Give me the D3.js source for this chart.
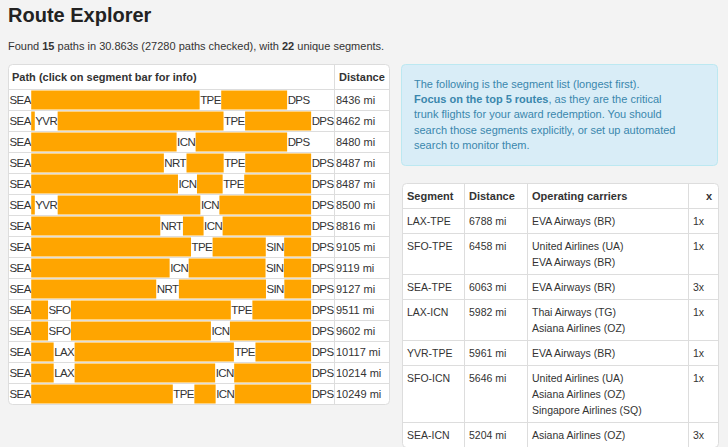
<!DOCTYPE html>
<html>
<head>
<meta charset="utf-8">
<script src="https://cdn.jsdelivr.net/npm/d3@7"></script>
<style>
  body { margin: 0; background: #f3f3f3; }
  svg { display: block; font-family: "Liberation Sans", Arial, Helvetica, sans-serif; }
</style>
</head>
<body>
<div id="chart"></div>
<script>
// --- data ---
const pathStops = [
  ["SEA", "TPE", "DPS"],
  ["SEA", "YVR", "TPE", "DPS"],
  ["SEA", "ICN", "DPS"],
  ["SEA", "NRT", "TPE", "DPS"],
  ["SEA", "ICN", "TPE", "DPS"],
  ["SEA", "YVR", "ICN", "DPS"],
  ["SEA", "NRT", "ICN", "DPS"],
  ["SEA", "TPE", "SIN", "DPS"],
  ["SEA", "ICN", "SIN", "DPS"],
  ["SEA", "NRT", "SIN", "DPS"],
  ["SEA", "SFO", "TPE", "DPS"],
  ["SEA", "SFO", "ICN", "DPS"],
  ["SEA", "LAX", "TPE", "DPS"],
  ["SEA", "LAX", "ICN", "DPS"],
  ["SEA", "TPE", "ICN", "DPS"]
];
// leg distances (mi) for each path, in order of travel
const pathLegs = [
  [6063, 2373],
  [128, 5961, 2373],
  [5204, 3276],
  [4776, 1338, 2373],
  [5204, 910, 2373],
  [128, 5096, 3276],
  [4776, 764, 3276],
  [6063, 2018, 1024],
  [5204, 2891, 1024],
  [4776, 3327, 1024],
  [680, 6458, 2373],
  [680, 5646, 3276],
  [956, 6788, 2373],
  [956, 5982, 3276],
  [6063, 910, 3276]
];
const pathDistances = [8436, 8462, 8480, 8487, 8487, 8500, 8816, 9105, 9119, 9127, 9511, 9602, 10117, 10214, 10249];

const segNames = ["LAX-TPE", "SFO-TPE", "SEA-TPE", "LAX-ICN", "YVR-TPE", "SFO-ICN", "SEA-ICN"];
const segDistances = [6788, 6458, 6063, 5982, 5961, 5646, 5204];
const segCarriers = [
  ["EVA Airways (BR)"],
  ["United Airlines (UA)", "EVA Airways (BR)"],
  ["EVA Airways (BR)"],
  ["Thai Airways (TG)", "Asiana Airlines (OZ)"],
  ["EVA Airways (BR)"],
  ["United Airlines (UA)", "Asiana Airlines (OZ)", "Singapore Airlines (SQ)"],
  ["Asiana Airlines (OZ)"]
];
const segCounts = [1, 1, 3, 1, 1, 1, 3];
const uniqueSegments = 22;

const width = 728, height = 447;
const textColor = "#333";
const lineColor = "#ddd";
const orange = "#ffa500";

const svg = d3.select("#chart").append("svg")
  .attr("width", width)
  .attr("height", height);

svg.append("rect").attr("width", width).attr("height", height).attr("fill", "#f3f3f3");

// title + summary
svg.append("text")
  .attr("x", 8).attr("y", 22)
  .attr("font-size", 20).attr("font-weight", "bold")
  .attr("fill", "#222")
  .text("Route Explorer");

const summary = svg.append("text")
  .attr("x", 8).attr("y", 50)
  .attr("font-size", 11).attr("fill", textColor);
summary.append("tspan").text("Found ");
summary.append("tspan").attr("font-weight", "bold").text(pathDistances.length);
summary.append("tspan").text(" paths in 30.863s (27280 paths checked), with ");
summary.append("tspan").attr("font-weight", "bold").text(uniqueSegments);
summary.append("tspan").text(" unique segments.");

// --- path table ---
const pt = { left: 8, right: 389, top: 64, headH: 25, rowH: 21, split: 334 };
const ptBottom = pt.top + pt.headH + pathStops.length * pt.rowH;

svg.append("rect")
  .attr("x", pt.left + 0.5).attr("y", pt.top + 0.5)
  .attr("width", pt.right - pt.left).attr("height", ptBottom - pt.top)
  .attr("rx", 4).attr("fill", "#fff").attr("stroke", lineColor);

svg.append("text")
  .attr("x", 12).attr("y", pt.top + 17)
  .attr("font-size", 11).attr("font-weight", "bold").attr("fill", textColor)
  .text("Path (click on segment bar for info)");
svg.append("text")
  .attr("x", 339).attr("y", pt.top + 17)
  .attr("font-size", 11).attr("font-weight", "bold").attr("fill", textColor)
  .text("Distance");

svg.append("line")
  .attr("x1", pt.split + 0.5).attr("x2", pt.split + 0.5)
  .attr("y1", pt.top + 1).attr("y2", ptBottom)
  .attr("stroke", lineColor);

// measure label widths
const measurer = svg.append("text")
  .attr("font-size", 11.5).attr("letter-spacing", -0.6)
  .attr("visibility", "hidden");
function textW(s) {
  measurer.text(s);
  return measurer.node().getComputedTextLength();
}

const rowWidth = pt.split - pt.left - 1;
const slotGap = 24; // reserved width of an unused airport slot

const rows = svg.append("g").selectAll("g")
  .data(pathStops)
  .join("g")
  .attr("transform", (d, i) => `translate(${pt.left + 1},${pt.top + pt.headH + i * pt.rowH})`);

rows.append("line")
  .attr("x1", -1).attr("x2", pt.right - pt.left - 1)
  .attr("y1", 0.5).attr("y2", 0.5)
  .attr("stroke", lineColor);

rows.each(function(stops, i) {
  const g = d3.select(this);
  const legs = pathLegs[i];
  const labelW = stops.map(s => textW(s) + 1);
  const orangeTotal = rowWidth - d3.sum(labelW) - (4 - stops.length) * slotGap;
  const x = d3.scaleLinear().domain([0, d3.sum(legs)]).range([0, orangeTotal]);

  let cursor = 0;
  stops.forEach((s, j) => {
    g.append("text")
      .attr("x", cursor + 0.5).attr("y", 15)
      .attr("font-size", 11.5).attr("letter-spacing", -0.6)
      .attr("fill", textColor)
      .text(s);
    cursor += labelW[j];
    if (j < legs.length) {
      g.append("rect")
        .attr("x", cursor).attr("y", 1.5)
        .attr("width", x(legs[j])).attr("height", 19)
        .attr("fill", orange);
      cursor += x(legs[j]);
    }
  });

  g.append("text")
    .attr("x", pt.split - pt.left + 1).attr("y", 15)
    .attr("font-size", 11).attr("fill", textColor)
    .text(pathDistances[i] + " mi");
});

// --- info box ---
const info = svg.append("g");
info.append("rect")
  .attr("x", 401.5).attr("y", 64.5).attr("width", 316).attr("height", 101)
  .attr("rx", 4).attr("fill", "#d9edf7").attr("stroke", "#bce8f1");

const infoLines = [
  [["The following is the segment list (longest first).", false]],
  [["Focus on the top 5 routes", true], [", as they are the critical", false]],
  [["trunk flights for your award redemption. You should", false]],
  [["search those segments explicitly, or set up automated", false]],
  [["search to monitor them.", false]]
];
infoLines.forEach((parts, k) => {
  const t = info.append("text")
    .attr("x", 414).attr("y", 88 + k * 15.2)
    .attr("font-size", 11).attr("fill", "#3a87ad");
  parts.forEach(p => t.append("tspan").attr("font-weight", p[1] ? "bold" : null).text(p[0]));
});

// --- segment table ---
const cols = [402, 464, 527, 688, 718];
const stTop = 183, stHead = 25, lineH = 16, baseRowH = 25;
const rowHeights = segCarriers.map(c => baseRowH + (c.length - 1) * lineH);
const rowTops = [];
rowHeights.reduce((acc, h) => { rowTops.push(acc); return acc + h; }, stTop + stHead);
const stBottom = rowTops[rowTops.length - 1] + rowHeights[rowHeights.length - 1];

svg.append("rect")
  .attr("x", cols[0] + 0.5).attr("y", stTop + 0.5)
  .attr("width", cols[4] - cols[0]).attr("height", stBottom - stTop)
  .attr("rx", 4).attr("fill", "#fff").attr("stroke", lineColor);

svg.selectAll(".coldiv")
  .data(cols.slice(1, 4))
  .join("line")
  .attr("class", "coldiv")
  .attr("x1", d => d + 0.5).attr("x2", d => d + 0.5)
  .attr("y1", stTop + 1).attr("y2", stBottom)
  .attr("stroke", lineColor);

const headers = ["Segment", "Distance", "Operating carriers"];
headers.forEach((h, k) => {
  svg.append("text")
    .attr("x", cols[k] + 5).attr("y", stTop + 17)
    .attr("font-size", 11).attr("font-weight", "bold").attr("fill", textColor)
    .text(h);
});
svg.append("text")
  .attr("x", cols[4] - 6).attr("y", stTop + 17)
  .attr("text-anchor", "end")
  .attr("font-size", 11).attr("font-weight", "bold").attr("fill", textColor)
  .text("x");

const segRows = svg.append("g").selectAll("g")
  .data(segNames)
  .join("g")
  .attr("transform", (d, i) => `translate(0,${rowTops[i]})`);

segRows.append("line")
  .attr("x1", cols[0] + 1).attr("x2", cols[4])
  .attr("y1", 0.5).attr("y2", 0.5)
  .attr("stroke", lineColor);

segRows.append("text")
  .attr("x", cols[0] + 5).attr("y", 16.5)
  .attr("font-size", 10.5).attr("fill", textColor)
  .text(d => d);
segRows.append("text")
  .attr("x", cols[1] + 5).attr("y", 16.5)
  .attr("font-size", 10.5).attr("fill", textColor)
  .text((d, i) => segDistances[i] + " mi");
segRows.append("text")
  .attr("x", cols[3] + 5).attr("y", 16.5)
  .attr("font-size", 10.5).attr("fill", textColor)
  .text((d, i) => segCounts[i] + "x");
segRows.each(function(d, i) {
  d3.select(this).selectAll(".carrier")
    .data(segCarriers[i])
    .join("text")
    .attr("class", "carrier")
    .attr("x", cols[2] + 5).attr("y", (c, k) => 16.5 + k * lineH)
    .attr("font-size", 10.5).attr("fill", textColor)
    .text(c => c);
});
</script>
</body>
</html>
